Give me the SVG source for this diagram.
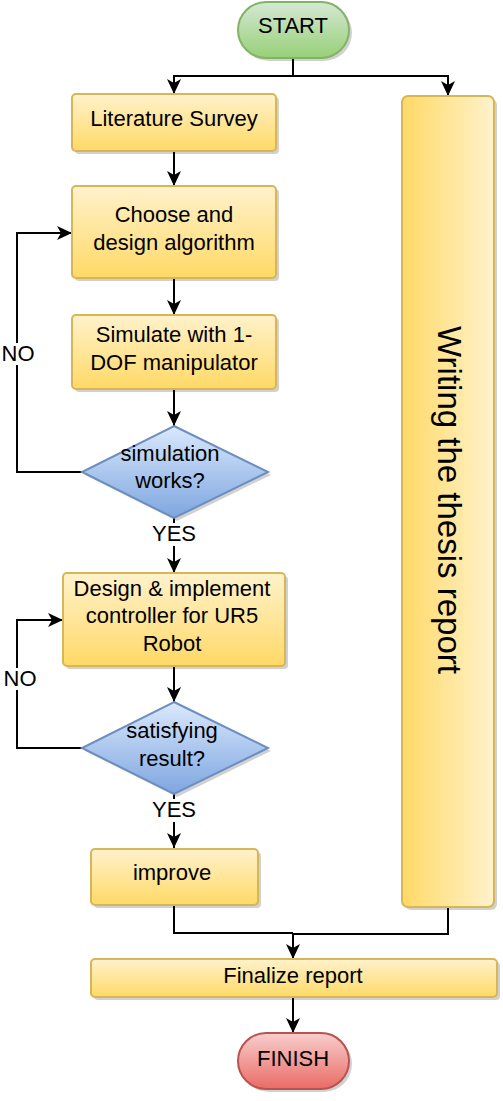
<svg xmlns="http://www.w3.org/2000/svg" width="503" height="1101" viewBox="0 0 503 1101">
<defs>
<linearGradient id="gY" x1="0" y1="0" x2="0" y2="1"><stop offset="0" stop-color="#fff2cc"/><stop offset="1" stop-color="#ffd966"/></linearGradient>
<linearGradient id="gYh" x1="0" y1="0" x2="1" y2="0"><stop offset="0" stop-color="#ffd966"/><stop offset="1" stop-color="#fff2cc"/></linearGradient>
<linearGradient id="gG" x1="0" y1="0" x2="0" y2="1"><stop offset="0" stop-color="#d5e8d4"/><stop offset="1" stop-color="#97d077"/></linearGradient>
<linearGradient id="gB" x1="0" y1="0" x2="0" y2="1"><stop offset="0" stop-color="#dae8fc"/><stop offset="1" stop-color="#7ea6e0"/></linearGradient>
<linearGradient id="gR" x1="0" y1="0" x2="0" y2="1"><stop offset="0" stop-color="#f8cecc"/><stop offset="1" stop-color="#ea6b66"/></linearGradient>
<marker id="arr" viewBox="-16 -8 17 16" refX="0" refY="0" markerWidth="17" markerHeight="16" markerUnits="userSpaceOnUse" orient="auto">
<path d="M-15,-7 L0,0 L-15,7 L-11,0 Z" fill="#000"/>
</marker>
</defs>
<style>
.sh{fill:#000;opacity:0.18}
.y{fill:url(#gY);stroke:#d6b656;stroke-width:2}
.b{fill:url(#gB);stroke:#6c8ebf;stroke-width:2}
.t{font-family:"Liberation Sans",Arial,sans-serif;font-size:22px;fill:#000;text-anchor:middle}
.c{fill:none;stroke:#000;stroke-width:2}
.a{marker-end:url(#arr)}
</style>

<g id="connectors">
<path class="c a" d="M293,58 V76 H174 V94"/>
<path class="c a" d="M293,76 H448 V96"/>
<path class="c a" d="M174,151 V186"/>
<path class="c a" d="M174,278 V315"/>
<path class="c a" d="M174,389 V426"/>
<path class="c a" d="M82,472 H17 V233 H72"/>
<path class="c a" d="M174,518 V573"/>
<path class="c a" d="M174,666 V702"/>
<path class="c a" d="M82,748 H17 V620 H63"/>
<path class="c a" d="M174,794 V848"/>
<path class="c" d="M174,905 V933 H293"/>
<path class="c a" d="M448,907 V934 H293 V959"/>
<path class="c a" d="M293,997 V1033"/>
<rect x="2" y="343" width="33" height="22" fill="#fff"/>
<text class="t" x="18" y="361">NO</text>
<rect x="4" y="668" width="33" height="22" fill="#fff"/>
<text class="t" x="20" y="686">NO</text>
<rect x="150" y="523" width="48" height="23" fill="#fff"/>
<text class="t" x="174" y="541">YES</text>
<rect x="150" y="799" width="48" height="23" fill="#fff"/>
<text class="t" x="174" y="817">YES</text>
</g>

<g id="start">
<rect class="sh" x="241" y="5" width="111" height="56" rx="28"/>
<rect x="238" y="2" width="111" height="56" rx="28" fill="url(#gG)" stroke="#82b366" stroke-width="2"/>
<text class="t" x="293" y="33">START</text>
</g>

<g id="literature">
<rect class="sh" x="75" y="97" width="204" height="57" rx="4"/>
<rect class="y" x="72" y="94" width="204" height="57" rx="4"/>
<text class="t" x="174" y="126">Literature Survey</text>
</g>

<g id="thesis">
<rect class="sh" x="405" y="99" width="92" height="811" rx="6"/>
<rect x="402" y="96" width="92" height="811" rx="6" fill="url(#gYh)" stroke="#d6b656" stroke-width="2"/>
<text class="t" style="font-size:33px" transform="translate(438,500) rotate(90)">Writing the thesis report</text>
</g>

<g id="choose">
<rect class="sh" x="75" y="189" width="204" height="92" rx="4"/>
<rect class="y" x="72" y="186" width="204" height="92" rx="4"/>
<text class="t" x="174" y="222">Choose and</text>
<text class="t" x="174" y="249.5">design algorithm</text>
</g>

<g id="simulate">
<rect class="sh" x="75" y="318" width="204" height="74" rx="4"/>
<rect class="y" x="72" y="315" width="204" height="74" rx="4"/>
<text class="t" x="174" y="342">Simulate with 1-</text>
<text class="t" x="174" y="370">DOF manipulator</text>
</g>

<g id="simworks">
<polygon class="sh" points="177,429 271,475 177,521 85,475"/>
<polygon class="b" points="174,426 268,472 174,518 82,472"/>
<text class="t" x="170" y="461">simulation</text>
<text class="t" x="170" y="488">works?</text>
</g>

<g id="design">
<rect class="sh" x="66" y="576" width="222" height="93" rx="4"/>
<rect class="y" x="63" y="573" width="222" height="93" rx="4"/>
<text class="t" x="172" y="596">Design &amp; implement</text>
<text class="t" x="172" y="623">controller for UR5</text>
<text class="t" x="172" y="651">Robot</text>
</g>

<g id="satisfying">
<polygon class="sh" points="177,705 271,751 177,797 85,751"/>
<polygon class="b" points="174,702 268,748 174,794 82,748"/>
<text class="t" x="172" y="738">satisfying</text>
<text class="t" x="172" y="766">result?</text>
</g>

<g id="improve">
<rect class="sh" x="94" y="852" width="167" height="56" rx="4"/>
<rect class="y" x="91" y="849" width="167" height="56" rx="4"/>
<text class="t" x="172" y="880">improve</text>
</g>

<g id="finalize">
<rect class="sh" x="94" y="962" width="406" height="38" rx="4"/>
<rect class="y" x="91" y="959" width="406" height="38" rx="4"/>
<text class="t" x="293" y="983">Finalize report</text>
</g>

<g id="finish">
<rect class="sh" x="241" y="1036" width="111" height="56" rx="28"/>
<rect x="238" y="1033" width="111" height="56" rx="28" fill="url(#gR)" stroke="#b85450" stroke-width="2"/>
<text class="t" x="293" y="1066">FINISH</text>
</g>
</svg>
